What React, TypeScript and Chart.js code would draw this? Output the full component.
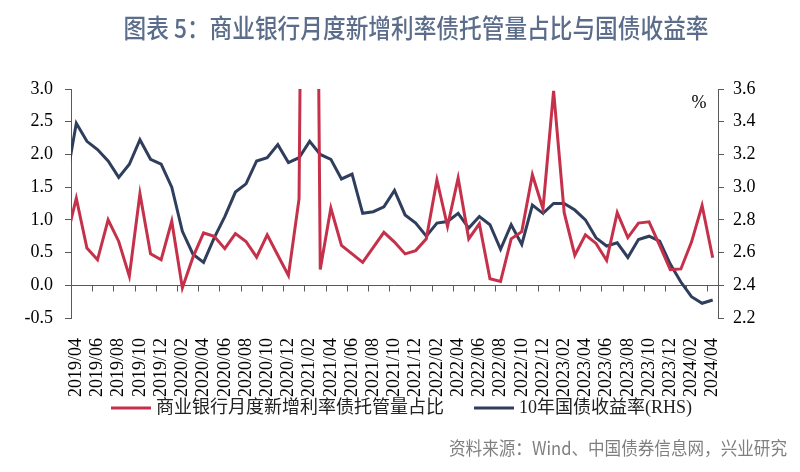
import React, { useEffect, useRef } from 'react';
import { Chart, registerables } from 'chart.js';

Chart.register(...registerables);

// Monthly categories (2019/03 only feeds the clipped stub at the left edge)
const months = [
  '2019/03', '2019/04', '2019/05', '2019/06', '2019/07', '2019/08', '2019/09', '2019/10', '2019/11', '2019/12',
  '2020/01', '2020/02', '2020/03', '2020/04', '2020/05', '2020/06', '2020/07', '2020/08', '2020/09', '2020/10',
  '2020/11', '2020/12', '2021/01', '2021/02', '2021/03', '2021/04', '2021/05', '2021/06', '2021/07', '2021/08',
  '2021/09', '2021/10', '2021/11', '2021/12', '2022/01', '2022/02', '2022/03', '2022/04', '2022/05', '2022/06',
  '2022/07', '2022/08', '2022/09', '2022/10', '2022/11', '2022/12', '2023/01', '2023/02', '2023/03', '2023/04',
  '2023/05', '2023/06', '2023/07', '2023/08', '2023/09', '2023/10', '2023/11', '2023/12', '2024/01', '2024/02',
  '2024/03', '2024/04',
];

// 商业银行月度新增利率债托管量占比 (left axis)
const bankShare = [
  0.66, 1.33, 0.57, 0.39, 1.00, 0.67, 0.14, 1.40, 0.48, 0.39,
  0.98, -0.04, 0.43, 0.80, 0.75, 0.56, 0.79, 0.67, 0.43, 0.77,
  0.46, 0.15, 1.32, 20.0, 0.24, 1.18, 0.61, 0.48, 0.35, 0.58,
  0.81, 0.66, 0.48, 0.53, 0.71, 1.61, 0.90, 1.64, 0.71, 0.94,
  0.10, 0.06, 0.71, 0.82, 1.69, 1.17, 2.97, 1.11, 0.46, 0.77,
  0.64, 0.38, 1.11, 0.73, 0.95, 0.97, 0.61, 0.24, 0.25, 0.66,
  1.22, 0.42,
];

// 10年国债收益率 (right axis, %)
const cgb10y = [
  3.02, 3.39, 3.28, 3.23, 3.16, 3.06, 3.14, 3.29, 3.17, 3.14,
  3.00, 2.73, 2.59, 2.54, 2.69, 2.82, 2.97, 3.02, 3.16, 3.18,
  3.26, 3.15, 3.18, 3.28, 3.20, 3.17, 3.05, 3.08, 2.84, 2.85,
  2.88, 2.98, 2.83, 2.78, 2.70, 2.78, 2.79, 2.84, 2.75, 2.82,
  2.77, 2.62, 2.77, 2.65, 2.89, 2.84, 2.90, 2.90, 2.86, 2.80,
  2.69, 2.64, 2.66, 2.57, 2.68, 2.70, 2.67, 2.53, 2.42, 2.33,
  2.29, 2.31,
];

const seriesNames = ['商业银行月度新增利率债托管量占比', '10年国债收益率(RHS)'];
const titleText = '图表 5：商业银行月度新增利率债托管量占比与国债收益率';
const sourceText = '资料来源：Wind、中国债券信息网，兴业研究';
const unitText = '%';

const RED = '#c5314b';
const NAVY = '#2f3e5c';
const AXIS = '#595959';
const SERIF = "'Liberation Serif', 'Times New Roman', 'Noto Sans CJK SC', serif";
const CJK = "'Noto Sans CJK SC', sans-serif";

// label positions: every other month starting at 2019/04 (category index 0)
const labelIdx: number[] = [];
for (let i = 0; i <= months.length - 2; i += 2) labelIdx.push(i);

const decorPlugin = {
  id: 'decor',
  beforeDatasetsDraw(chart: any) {
    const { ctx, chartArea, scales } = chart;
    const xs = scales.x;
    const y0 = Math.round(scales.y.getPixelForValue(0)) + 0.5;
    ctx.save();
    ctx.strokeStyle = AXIS;
    ctx.lineWidth = 1;
    ctx.beginPath();
    ctx.moveTo(chartArea.left, y0);
    ctx.lineTo(chartArea.right, y0);
    labelIdx.forEach((i) => {
      const px = Math.round(xs.getPixelForValue(i - 0.5)) + 0.5;
      ctx.moveTo(px, y0);
      ctx.lineTo(px, y0 + 6);
    });
    ctx.stroke();
    ctx.restore();
  },
  afterDraw(chart: any) {
    const { ctx, chartArea } = chart;
    ctx.save();
    // title
    ctx.fillStyle = '#5b6d8a';
    ctx.font = `500 26px ${CJK}`;
    ctx.textAlign = 'center';
    ctx.textBaseline = 'middle';
    ctx.fillText(titleText, 416, 28, 585);
    // unit
    ctx.fillStyle = '#000';
    ctx.font = `18px ${SERIF}`;
    ctx.fillText(unitText, chartArea.right - 19, 103);
    // legend
    const lineLen = 40;
    const gap = 5;
    const itemGap = 30;
    const ly = 408;
    ctx.font = `18px ${SERIF}`;
    ctx.textAlign = 'left';
    const items = chart.data.datasets.map((ds: any) => ({
      text: ds.label,
      color: ds.borderColor,
      w: ctx.measureText(ds.label).width,
    }));
    const total = items.reduce((s: number, it: any) => s + lineLen + gap + it.w, 0) + itemGap * (items.length - 1);
    let x = 401.5 - total / 2;
    items.forEach((it: any) => {
      ctx.fillStyle = it.color;
      ctx.fillRect(x, ly - 1.5, lineLen, 3);
      ctx.fillStyle = '#222';
      ctx.fillText(it.text, x + lineLen + gap, ly);
      x += lineLen + gap + it.w + itemGap;
    });
    // source
    ctx.fillStyle = '#7f7f7f';
    ctx.font = `18px ${CJK}`;
    ctx.textAlign = 'right';
    ctx.fillText(sourceText, 787, 448, 338);
    ctx.restore();
  },
};

export default function App() {
  const ref = useRef<HTMLCanvasElement | null>(null);
  useEffect(() => {
    if (!ref.current) return;
    const chart = new Chart(ref.current, {
      type: 'line',
      data: {
        datasets: [
          {
            label: seriesNames[0],
            data: bankShare.map((v, i) => ({ x: i - 1, y: v })),
            borderColor: RED,
            backgroundColor: RED,
            borderWidth: 3,
            pointRadius: 0,
            tension: 0,
            yAxisID: 'y',
            clip: 0,
          },
          {
            label: seriesNames[1],
            data: cgb10y.map((v, i) => ({ x: i - 1, y: v })),
            borderColor: NAVY,
            backgroundColor: NAVY,
            borderWidth: 3,
            pointRadius: 0,
            tension: 0,
            yAxisID: 'y1',
            clip: 0,
          },
        ],
      },
      options: {
        responsive: false,
        animation: false,
        layout: { padding: { top: 89, left: 0, right: 0, bottom: 0 } },
        plugins: {
          tooltip: { enabled: false },
          title: { display: false },
          legend: { display: false },
        },
        scales: {
          x: {
            type: 'linear',
            min: -0.5,
            max: months.length - 1.5,
            afterBuildTicks: (scale: any) => {
              scale.ticks = labelIdx.map((v) => ({ value: v }));
            },
            afterFit: (scale: any) => {
              scale.height = 154;
            },
            grid: { display: false },
            border: { display: false },
            ticks: {
              autoSkip: false,
              minRotation: 90,
              maxRotation: 90,
              padding: 12,
              color: '#000',
              font: { size: 18, family: SERIF },
              callback: (v: any) => months[Number(v) + 1],
            },
          },
          y: {
            position: 'left',
            min: -0.5,
            max: 3.0,
            afterFit: (scale: any) => {
              scale.width = 71;
            },
            grid: { drawOnChartArea: false, drawTicks: true, tickLength: 6, color: AXIS },
            border: { display: true, color: AXIS },
            ticks: {
              stepSize: 0.5,
              padding: 12,
              color: '#000',
              font: { size: 18, family: SERIF },
              callback: (v: any) => Number(v).toFixed(1),
            },
          },
          y1: {
            position: 'right',
            min: 2.2,
            max: 3.6,
            afterFit: (scale: any) => {
              scale.width = 82;
            },
            grid: { drawOnChartArea: false, drawTicks: true, tickLength: 6, color: AXIS },
            border: { display: true, color: AXIS },
            ticks: {
              stepSize: 0.2,
              padding: 9,
              color: '#000',
              font: { size: 18, family: SERIF },
              callback: (v: any) => Number(v).toFixed(1),
            },
          },
        },
      },
      plugins: [decorPlugin],
    } as any);
    return () => chart.destroy();
  }, []);

  return (
    <div style={{ position: 'fixed', left: 0, top: 0, width: 800, height: 472, background: '#fff' }}>
      <canvas ref={ref} width={800} height={472} />
    </div>
  );
}
